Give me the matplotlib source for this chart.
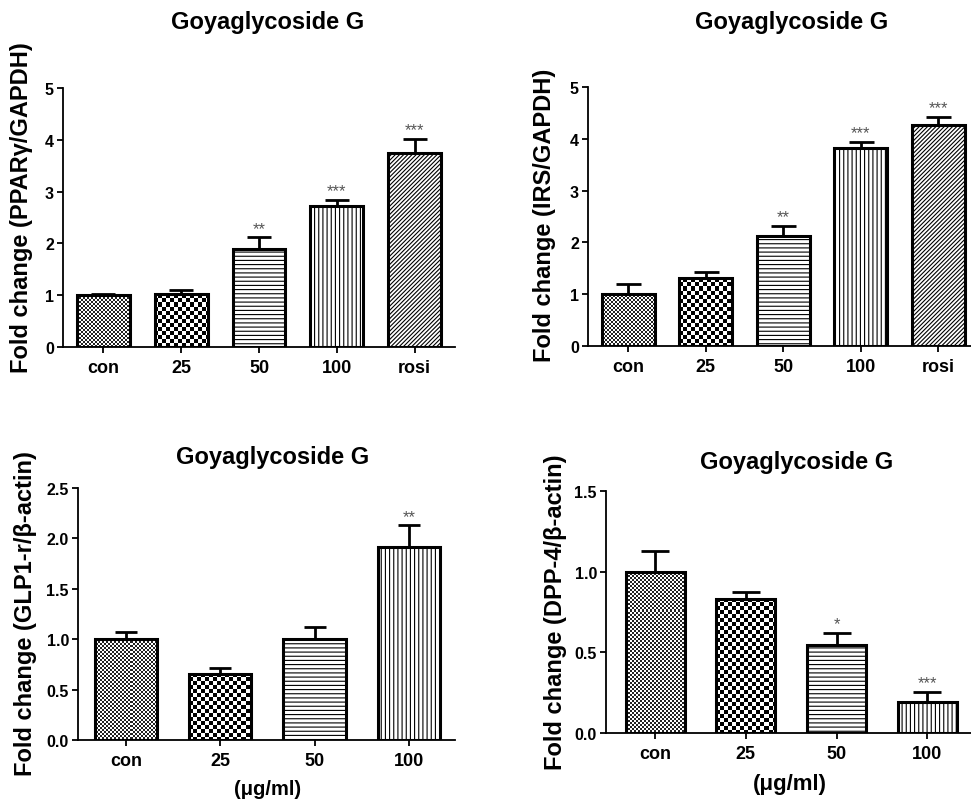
import numpy as np
import matplotlib
matplotlib.use("Agg")
import matplotlib.pyplot as plt
from matplotlib.colors import ListedColormap

plt.rcParams['font.family'] = ['Liberation Sans', 'DejaVu Sans']
plt.rcParams['font.weight'] = 'bold'
plt.rcParams['hatch.linewidth'] = 0.8

# ---- data -------------------------------------------------------------
cats_a = ['con', '25', '50', '100', 'rosi']
cats_b = ['con', '25', '50', '100']

ppar_mean = [1.00, 1.03, 1.89, 2.72, 3.74]
ppar_err = [0.02, 0.08, 0.23, 0.12, 0.28]
ppar_sig = ['', '', '**', '***', '***']

irs_mean = [1.00, 1.32, 2.12, 3.82, 4.27]
irs_err = [0.20, 0.10, 0.20, 0.12, 0.16]
irs_sig = ['', '', '**', '***', '***']

glp_mean = [1.00, 0.65, 1.00, 1.91]
glp_err = [0.07, 0.06, 0.12, 0.22]
glp_sig = ['', '', '', '**']

dpp_mean = [1.00, 0.83, 0.545, 0.19]
dpp_err = [0.13, 0.045, 0.075, 0.066]
dpp_sig = ['', '', '*', '***']

# fill style per group: ('checker', cell_px, colour) or a hatch string
fills = [('checker', 2, '#222222'), ('checker', 4, 'black'), '----', '||||', '////////']

W, H = 971, 804
fig = plt.figure(figsize=(W / 100, H / 100), dpi=100)


def px_axes(left, right, top, bottom):
    return fig.add_axes([left / W, 1 - bottom / H, (right - left) / W, (bottom - top) / H])


def checker(ax, bar, cell_px, color):
    """Fill a bar with a checkerboard whose cells sit on the pixel grid."""
    x0, w, h = bar.get_x(), bar.get_width(), bar.get_height()
    p0 = ax.transData.transform((x0, 0))
    p1 = ax.transData.transform((x0 + w, h))
    px0, py0 = np.floor(p0[0]) - cell_px, np.floor(p0[1]) - cell_px
    nx = int(np.ceil((p1[0] - px0) / cell_px)) + 2
    ny = int(np.ceil((p1[1] - py0) / cell_px)) + 2
    inv = ax.transData.inverted()
    d0 = inv.transform((px0, py0))
    d1 = inv.transform((px0 + nx * cell_px, py0 + ny * cell_px))
    grid = (np.add.outer(np.arange(ny), np.arange(nx)) % 2)
    im = ax.imshow(grid, cmap=ListedColormap(['white', color]), origin='lower',
                   extent=(d0[0], d1[0], d0[1], d1[1]), interpolation='nearest',
                   aspect='auto', zorder=2)
    im.set_clip_path(bar)


def panel(ax, cats, mean, err, sig, ylim, yticks, fmt, xlim, width, capsize):
    x = np.arange(len(cats))
    ax.set_xlim(*xlim)
    ax.set_ylim(*ylim)
    bars = ax.bar(x, mean, width=width, facecolor='none', edgecolor='black',
                  linewidth=2.2, zorder=3)
    for b, f in zip(bars, fills):
        if isinstance(f, tuple):
            checker(ax, b, f[1], f[2])
        else:
            b.set_hatch(f)
            b.set_facecolor('white')
    ax.errorbar(x, mean, yerr=[np.zeros(len(x)), err], fmt='none', ecolor='black',
                elinewidth=2.0, capsize=capsize, capthick=2.0, zorder=2.8)
    for xi, m, e, s in zip(x, mean, err, sig):
        if s:
            ax.annotate(s, (xi, m + e), xytext=(0, 1), textcoords='offset points',
                        ha='center', va='bottom', fontsize=12, color='#555555',
                        fontweight='normal')
    ax.set_xlim(*xlim)
    ax.set_ylim(*ylim)
    ax.set_yticks(yticks)
    ax.set_yticklabels([fmt.format(t) for t in yticks])
    ax.set_xticks(x)
    ax.set_xticklabels(cats)
    for sp in ('top', 'right'):
        ax.spines[sp].set_visible(False)
    for sp in ('left', 'bottom'):
        ax.spines[sp].set_linewidth(1.3)
    ax.tick_params(axis='both', direction='out', width=1.3, length=4.5, pad=2)
    ax.tick_params(axis='y', labelsize=11.5)
    ax.tick_params(axis='x', labelsize=13, pad=4)
    ax.patch.set_alpha(0)


ax1 = px_axes(63, 455, 89, 348)
panel(ax1, cats_a, ppar_mean, ppar_err, ppar_sig, (0, 5), [0, 1, 2, 3, 4, 5], '{:.0f}',
      (-0.52, 4.52), 0.68, 8.5)

ax2 = px_axes(588, 588 + 5.04 * 77.5, 88, 347)
panel(ax2, cats_a, irs_mean, irs_err, irs_sig, (0, 5), [0, 1, 2, 3, 4, 5], '{:.0f}',
      (-0.52, 4.52), 0.68, 9)

ax3 = px_axes(78, 455, 489, 741)
panel(ax3, cats_b, glp_mean, glp_err, glp_sig, (0, 2.5), [0, 0.5, 1.0, 1.5, 2.0, 2.5],
      '{:.1f}', (-0.51, 3.49), 0.66, 8)

ax4 = px_axes(606, 606 + 4.05 * 90.8, 492, 734)
panel(ax4, cats_b, dpp_mean, dpp_err, dpp_sig, (0, 1.5), [0, 0.5, 1.0, 1.5],
      '{:.1f}', (-0.54, 3.51), 0.65, 10)


def ftext(x, y, s, **kw):
    fig.text(x / W, 1 - y / H, s, ha='center', va='center', **kw)


title = 'Goyaglycoside G'
ftext(268, 22, title, fontsize=17)
ftext(792, 22, title, fontsize=17)
ftext(273, 458, title, fontsize=17)
ftext(797, 463, title, fontsize=17)

ftext(22, 208, 'Fold change (PPARγ/GAPDH)', fontsize=17, rotation=90)
ftext(545, 215, 'Fold change (IRS/GAPDH)', fontsize=17, rotation=90)
ftext(26, 614, 'Fold change (GLP1-r/β-actin)', fontsize=17, rotation=90)
ftext(555, 612, 'Fold change (DPP-4/β-actin)', fontsize=17, rotation=90)

ftext(268, 790, '(μg/ml)', fontsize=14.5)
ftext(790, 785, '(μg/ml)', fontsize=16)

fig.savefig('out.png', dpi=100)
